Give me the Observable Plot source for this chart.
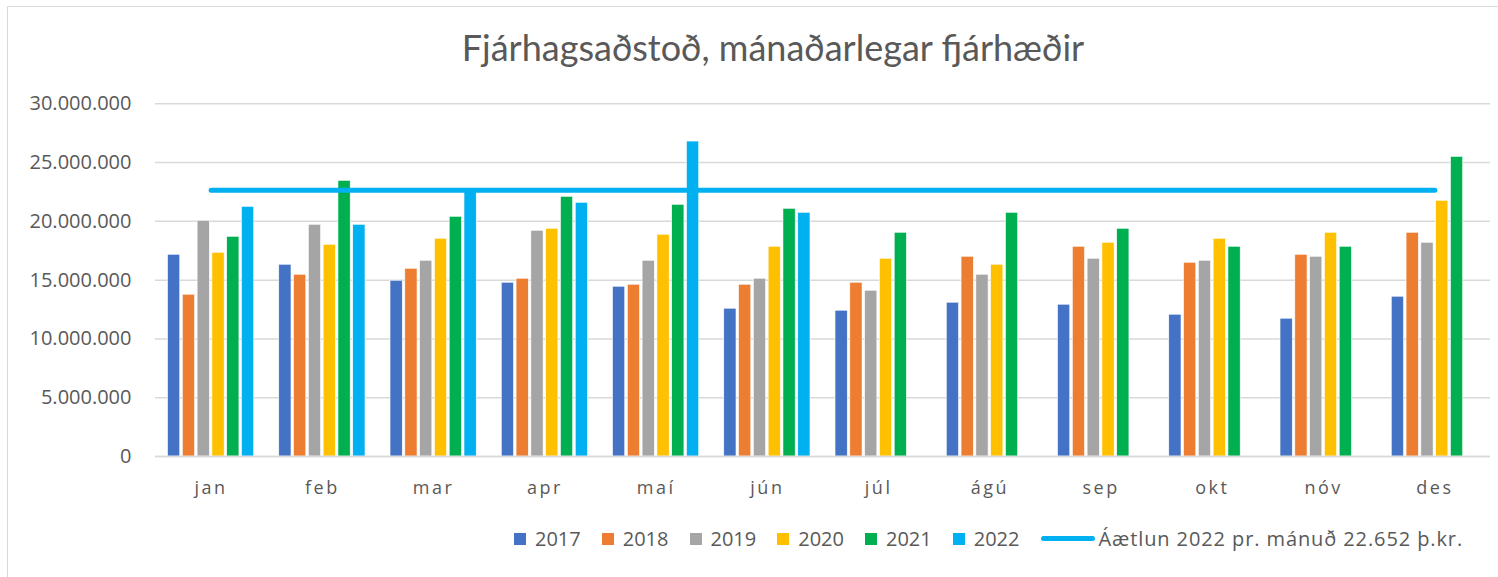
<!DOCTYPE html>
<html><head><meta charset="utf-8">
<script src="https://cdn.jsdelivr.net/npm/d3@7"></script>
<script src="https://cdn.jsdelivr.net/npm/@observablehq/plot@0.6"></script>
<style>
body{margin:0;background:#fff;}
#wrap{position:relative;width:1498px;height:577px;overflow:hidden;font-family:"Open Sans",sans-serif;color:#595959;}
#frame{position:absolute;left:7px;top:6px;width:1600px;height:700px;border:1.5px solid #d9d9d9;box-sizing:border-box;}
#title{position:absolute;left:0;top:25px;width:1546px;text-align:center;font-family:Lato,"Open Sans",sans-serif;font-size:36px;color:#595959;white-space:nowrap;}
#chart{position:absolute;left:0;top:80px;}
#legend{position:absolute;left:514px;top:525px;display:flex;align-items:center;font-size:20px;color:#595959;white-space:nowrap;}
.sw{display:inline-block;width:12px;height:12px;margin-right:9px;}
.it{display:flex;align-items:center;margin-right:21px;}
.ln{display:inline-block;width:54px;height:5px;border-radius:3px;background:#00B0F0;margin-right:4px;}
.pl{letter-spacing:0.9px;}
g[aria-label="x-axis tick label"] text{letter-spacing:2.5px;}
</style></head>
<body><div id="wrap"><div id="frame"></div><div id="title"></div><div id="chart"></div><div id="legend"></div></div>
<script>
const title = "Fjárhagsaðstoð, mánaðarlegar fjárhæðir";
const months = ["jan","feb","mar","apr","maí","jún","júl","ágú","sep","okt","nóv","des"];
const years = ["2017","2018","2019","2020","2021","2022"];
const colors = ["#4472C4","#ED7D31","#A5A5A5","#FFC000","#00B050","#00B0F0"];
const v2017 = [17160000,16310000,14950000,14780000,14440000,12570000,12400000,13080000,12910000,12060000,11720000,13590000];
const v2018 = [13760000,15460000,15970000,15120000,14610000,14610000,14780000,16990000,17840000,16480000,17160000,19030000];
const v2019 = [20050000,19710000,16650000,19200000,16650000,15120000,14100000,15460000,16820000,16650000,16990000,18180000];
const v2020 = [17330000,18010000,18520000,19370000,18860000,17840000,16820000,16310000,18180000,18520000,19030000,21750000];
const v2021 = [18690000,23450000,20390000,22090000,21410000,21070000,19030000,20730000,19370000,17840000,17840000,25490000];
const v2022 = [21240000,19710000,22700000,21580000,26790000,20730000,null,null,null,null,null,null];
const planLabel = "Áætlun 2022 pr. mánuð 22.652 þ.kr.";
const planValue = 22652000;
const yTicks = [0,5000000,10000000,15000000,20000000,25000000,30000000];

document.getElementById("title").textContent = title;
const series = [v2017,v2018,v2019,v2020,v2021,v2022];
const rows = [];
series.forEach((arr,k)=>arr.forEach((v,m)=>{ if(v!=null) rows.push({m,k,year:years[k],value:v}); }));
const planRows = months.map((mo,m)=>({m,value:planValue}));
const slot = 0.133, barW = 0.11;
const loc = d3.formatLocale({decimal:",",thousands:".",grouping:[3],currency:["",""]});
const fmt = loc.format(",d");

const chart = Plot.plot({
  width:1498, height:440,
  marginTop:23.3, marginBottom:64, marginLeft:155, marginRight:8,
  style:{fontFamily:'"Open Sans",sans-serif',color:"#595959",background:"transparent"},
  x:{type:"linear",domain:[-0.5,11.5]},
  y:{domain:[0,30000000]},
  color:{domain:years,range:colors},
  marks:[
    Plot.gridY(yTicks,{stroke:"#d9d9d9",strokeOpacity:1,strokeWidth:1.5}),
    Plot.rectY(rows,{x1:d=>d.m+(d.k-2.5)*slot-barW/2,x2:d=>d.m+(d.k-2.5)*slot+barW/2,y1:0,y2:"value",fill:"year",stroke:"#fff",strokeWidth:0.6}),
    Plot.ruleY([0],{stroke:"#d9d9d9",strokeWidth:1.5}),
    Plot.lineY(planRows,{x:"m",y:"value",stroke:"#00B0F0",strokeWidth:5,strokeLinecap:"round"}),
    Plot.axisY({ticks:yTicks,tickFormat:fmt,tickSize:0,tickPadding:24,fontSize:20,fill:"#595959",label:null}),
    Plot.axisX({ticks:d3.range(12),tickFormat:i=>months[i],tickSize:0,tickPadding:25,fontSize:18,fill:"#595959",label:null})
  ]
});
document.getElementById("chart").appendChild(chart);

const lg = document.getElementById("legend");
years.forEach((y,i)=>{
  const it=document.createElement("span"); it.className="it";
  it.innerHTML=`<span class="sw" style="background:${colors[i]}"></span>${y}`;
  lg.appendChild(it);
});
const it=document.createElement("span"); it.className="it pl";
it.innerHTML=`<span class="ln"></span>${planLabel}`;
lg.appendChild(it);
</script></body></html>
